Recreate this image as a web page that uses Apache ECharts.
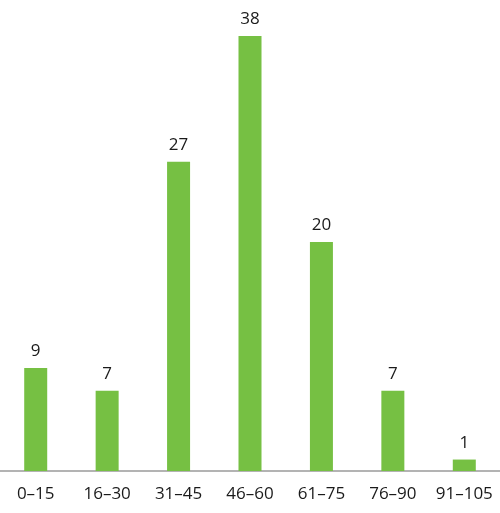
<!DOCTYPE html>
<html><head><meta charset="utf-8">
<script src="https://cdn.jsdelivr.net/npm/echarts@6/dist/echarts.min.js"></script>
<style>html,body{margin:0;padding:0;background:#fff}#c{width:500px;height:513px}</style>
</head><body><div id="c"></div>
<script>
const categories = ['0–15','16–30','31–45','46–60','61–75','76–90','91–105'];
const values = [9, 7, 27, 38, 20, 7, 1];
const chart = echarts.init(document.getElementById('c'));
chart.setOption({
  animation: false,
  grid: {left: 0, right: 0, top: 13, bottom: 42},
  xAxis: {
    type: 'category', data: categories,
    axisLine: {lineStyle: {color: '#9a9a9a', width: 1.5}},
    axisTick: {show: false},
    axisLabel: {interval: 0, hideOverlap: false, color: '#1a1a1a', fontSize: 17, margin: 15, fontFamily: 'Open Sans'}
  },
  yAxis: {type: 'value', min: 0, max: 40, show: false, splitLine: {show: false}},
  series: [{
    type: 'bar', data: values, barWidth: 23,
    itemStyle: {color: '#76c043'},
    label: {show: true, position: 'top', distance: 8, color: '#1a1a1a', fontSize: 17, fontFamily: 'Open Sans'}
  }]
});
</script></body></html>
